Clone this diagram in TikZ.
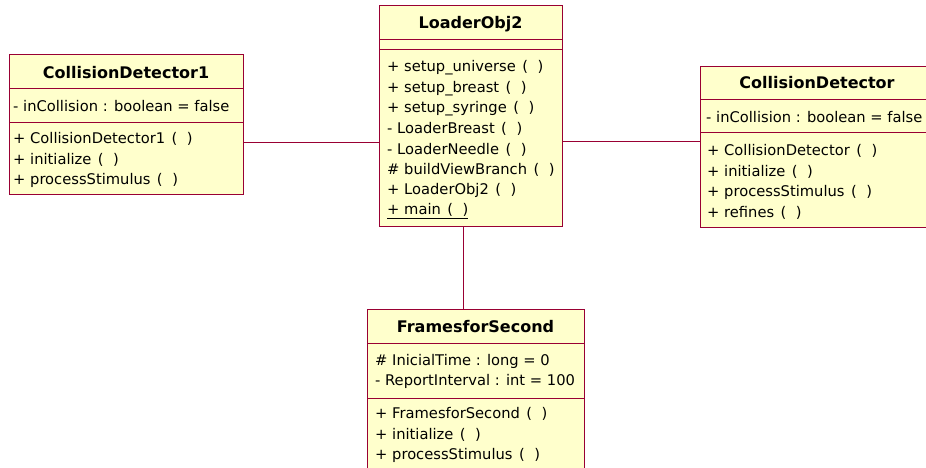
\documentclass[tikz,border=0pt]{standalone}
\usepackage{fontspec}
\setmainfont{DejaVu Sans}
\definecolor{umlborder}{HTML}{990033}
\definecolor{umlfill}{HTML}{FFFFCC}
\newcommand{\prs}{\hspace{0.12em}(\hspace{0.65em})}
\begin{document}
\begin{tikzpicture}[x=1pt,y=-1pt,
  box/.style={draw=umlborder,fill=umlfill,line width=1.1pt,inner sep=0pt,anchor=north west,rectangle},
  sep/.style={draw=umlborder,line width=0.9pt},
  conn/.style={draw=umlborder,line width=1pt},
  ttl/.style={font=\fontsize{16}{18}\selectfont\bfseries,inner sep=0pt,anchor=center},
  txt/.style={font=\fontsize{14.7}{17}\selectfont,inner sep=0pt,anchor=west}]
\useasboundingbox (0,0) rectangle (926,467);
\clip (0,0) rectangle (926,467);
% LoaderObj2
\node[box,minimum width=183pt,minimum height=221pt] (lo) at (379,5) {};
\draw[sep] (379,39) -- (562,39);
\draw[sep] (379,49) -- (562,49);
\node[ttl] (lot) at (470.5,24) {LoaderObj2};
\node[txt] (lo1) at (387,68) {+ setup\_universe \prs};
\node[txt] (lo2) at (387,88.4) {+ setup\_breast \prs};
\node[txt] (lo3) at (387,108.8) {+ setup\_syringe \prs};
\node[txt] (lo4) at (387,129.2) {- LoaderBreast \prs};
\node[txt] (lo5) at (387,149.6) {- LoaderNeedle \prs};
\node[txt] (lo6) at (387,170) {\# buildViewBranch \prs};
\node[txt] (lo7) at (387,190.4) {+ LoaderObj2 \prs};
\node[txt] (lo8) at (387,210.8) {\underline{+ main \prs}};
% CollisionDetector1
\node[box,minimum width=234pt,minimum height=140pt] (cd1) at (9,54) {};
\draw[sep] (9,88) -- (243,88);
\draw[sep] (9,122) -- (243,122);
\node[ttl] (cd1t) at (126,73) {CollisionDetector1};
\node[txt] (cd1a) at (13,106) {- inCollision : boolean = false};
\node[txt] (cd1m1) at (13,139) {+ CollisionDetector1 \prs};
\node[txt] (cd1m2) at (13,159.5) {+ initialize \prs};
\node[txt] (cd1m3) at (13,180) {+ processStimulus \prs};
% CollisionDetector
\node[box,minimum width=240pt,minimum height=161pt] (cd) at (700,66) {};
\draw[sep] (700,99) -- (940,99);
\draw[sep] (700,132) -- (940,132);
\node[ttl] (cdt) at (817,83) {CollisionDetector};
\node[txt] (cda) at (706,117) {- inCollision : boolean = false};
\node[txt] (cdm1) at (707,151) {+ CollisionDetector \prs};
\node[txt] (cdm2) at (707,171.5) {+ initialize \prs};
\node[txt] (cdm3) at (707,192) {+ processStimulus \prs};
\node[txt] (cdm4) at (707,212.5) {+ refines \prs};
% FramesforSecond
\node[box,minimum width=217pt,minimum height=170pt] (fs) at (367,309) {};
\draw[sep] (367,343) -- (584,343);
\draw[sep] (367,398) -- (584,398);
\node[ttl] (fst) at (475.5,327) {FramesforSecond};
\node[txt] (fsa1) at (375,361) {\# InicialTime : long = 0};
\node[txt] (fsa2) at (375,381) {- ReportInterval : int = 100};
\node[txt] (fsm1) at (375,414) {+ FramesforSecond \prs};
\node[txt] (fsm2) at (375,434.5) {+ initialize \prs};
\node[txt] (fsm3) at (375,455) {+ processStimulus \prs};
% connectors
\draw[conn] (cd1.east |- 0,142) -- (lo.west |- 0,142);
\draw[conn] (lo.east |- 0,141) -- (cd.west |- 0,141);
\draw[conn] (lo.south -| 463,0) -- (fs.north -| 463,0);
\end{tikzpicture}
\end{document}
